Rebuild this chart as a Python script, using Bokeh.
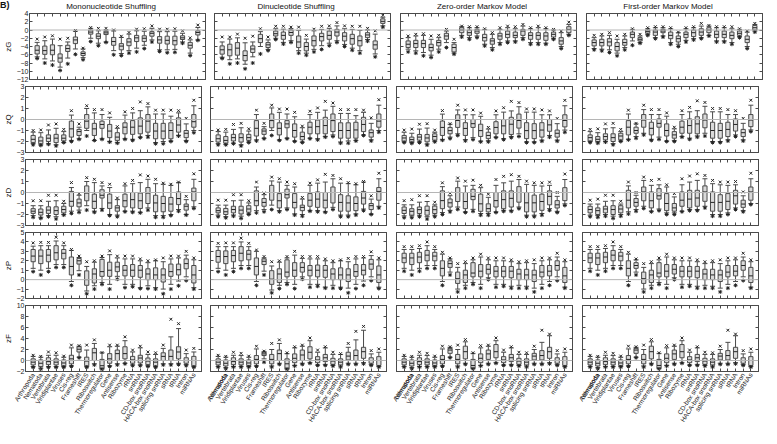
from bokeh.plotting import figure
from bokeh.layouts import column, row
from bokeh.models import (Range1d, FixedTicker, LinearAxis, Span, Div,
                          CustomJSTickFormatter, ColumnDataSource)
from bokeh.embed import file_html
from bokeh.resources import INLINE

FONT = "Liberation Sans"

CATEGORIES = ["Arthropoda", "Nematoda", "Vertebrata", "Viridiplantae", "Viruses",
              "Cis-reg", "Frameshift", "IRES", "Riboswitch", "Thermoregulator",
              "Gene", "Antisense", "Ribozyme", "rRNA", "snRNA", "CD-box snoRNA",
              "HACA-box snoRNA", "splicing snRNA", "sRNA", "tRNA", "Intron", "miRNAs"]
METHODS = ["Mononucleotide Shuffling", "Dinucleotide Shuffling",
           "Zero-order Markov Model", "First-order Markov Model"]
METRICS = ["zG", "zQ", "zD", "zP", "zF"]
Y_LIMITS = [(-12, 4), (-3, 3), (-3, 3), (-2, 5), (-2, 10)]
Y_TICKS = [[-12, -10, -8, -6, -4, -2, 0, 2, 4],
           [-3, -2, -1, 0, 1, 2, 3],
           [-3, -2, -1, 0, 1, 2, 3],
           [-2, -1, 0, 1, 2, 3, 4, 5],
           [-2, 0, 2, 4, 6, 8, 10]]

# ---------------- zG ----------------
ZG_MONO = dict(
    q1=[-5.8, -5.9, -6.0, -7.8, -5.2, -3.3, -6.2, -1.0, -2.1, -1.1, -3.7, -4.8, -3.8, -2.8, -2.8, -1.5, -3.2, -3.4, -3.6, -2.3, -4.4, -1.2],
    med=[-4.9, -5.0, -4.9, -6.8, -4.5, -2.4, -5.7, -0.5, -1.5, -0.7, -2.8, -3.9, -2.9, -1.9, -2.0, -0.8, -2.4, -2.5, -2.6, -1.9, -3.7, -0.6],
    q3=[-3.8, -3.9, -3.6, -5.8, -3.7, -1.7, -5.3, 0.0, -0.9, -0.3, -1.8, -3.3, -2.1, -1.3, -1.4, -0.4, -1.6, -1.5, -1.5, -1.4, -3.0, -0.2],
    wlo=[-6.5, -7.0, -7.5, -9.0, -6.8, -4.6, -6.7, -2.0, -3.2, -2.9, -5.0, -5.7, -5.0, -4.4, -3.7, -2.4, -4.8, -4.8, -4.7, -2.9, -5.6, -2.4],
    whi=[-3.0, -2.6, -2.2, -3.8, -2.9, -0.3, -4.6, 0.4, -0.2, 0.0, -0.2, -1.8, -1.0, -0.2, -0.3, 0.4, -0.4, -0.4, -0.3, -0.8, -2.4, 0.6],
    xlo=[-6.9, -8.0, -8.5, -9.8, -8.2, -5.9, -7.2, -2.8, -3.8, -3.0, -6.0, -6.2, -5.6, -5.3, -4.5, -2.9, -5.2, -5.5, -5.4, -3.2, -6.2, -2.5],
    xhi=[-2.2, -1.7, -1.4, -2.2, -2.0, -0.1, -4.4, 0.6, 0.4, 0.4, 0.0, -1.5, -0.6, 0.2, 0.3, 1.0, 0.2, 0.2, 0.3, -0.2, -1.9, 1.2])
ZG_DI = dict(
    q1=[-5.85, -6.25, -6.1, -7.45, -5.45, -3.05, -4.25, -1.45, -2.25, -1.3, -4.25, -5.05, -3.85, -2.65, -2.25, -1.45, -2.65, -3.45, -3.85, -1.85, -4.65, 1.6],
    med=[-4.8, -4.8, -4.4, -6.2, -4.6, -2.1, -3.6, -0.9, -1.3, -0.6, -2.9, -4.0, -2.6, -1.6, -1.3, -0.5, -1.5, -2.1, -2.6, -1.2, -3.6, 2.1],
    q3=[-3.85, -3.45, -3.05, -5.05, -3.85, -1.05, -3.05, -0.25, -0.5, 0.0, -1.45, -3.05, -1.45, -0.8, -0.25, 0.15, -0.65, -1.05, -1.45, -0.65, -2.65, 2.7],
    wlo=[-6.6, -7.2, -7.0, -8.3, -6.5, -4.0, -4.7, -2.0, -3.0, -2.6, -5.0, -5.6, -4.7, -3.8, -3.2, -2.6, -3.5, -4.4, -5.0, -2.3, -5.8, 1.0],
    whi=[-2.9, -2.2, -1.9, -3.1, -2.9, -0.4, -2.4, 0.3, 0.2, 0.3, -0.1, -2.2, -0.2, 0.15, 0.4, 1.0, 0.3, 0.15, -0.1, 0.0, -1.0, 3.1],
    xlo=[-6.9, -8.2, -8.0, -9.4, -8.0, -5.8, -5.0, -2.3, -3.4, -3.0, -5.6, -6.1, -5.3, -4.7, -3.8, -3.0, -4.0, -4.9, -5.6, -2.7, -6.5, 0.7],
    xhi=[-1.7, -1.7, -1.0, -2.0, -1.5, 0.3, -1.7, 0.9, 0.9, 0.7, 0.7, -1.3, 0.2, 0.9, 1.0, 1.8, 1.0, 0.9, 0.9, 0.4, -0.2, 3.6])
ZG_ZERO = dict(
    q1=[-4.25, -4.25, -4.25, -5.05, -3.85, -2.25, -5.3, -0.65, -1.3, -0.8, -2.65, -3.45, -2.25, -1.85, -1.85, -1.3, -2.25, -2.25, -2.5, -1.7, -3.45, -0.65],
    med=[-3.45, -3.3, -3.3, -4.25, -3.05, -1.45, -4.25, 0.0, -0.65, -0.25, -1.85, -2.65, -1.45, -1.05, -1.3, -0.25, -1.3, -1.3, -1.45, -1.05, -2.65, 0.15],
    q3=[-2.65, -2.5, -2.5, -3.45, -2.5, -0.8, -3.45, 0.55, 0.0, 0.15, -1.05, -2.1, -0.8, -0.25, -0.5, 0.15, -0.65, -0.65, -0.65, -0.5, -1.85, 0.8],
    wlo=[-4.65, -5.05, -5.45, -6.1, -4.65, -3.05, -5.6, -1.3, -1.85, -1.45, -3.45, -4.25, -3.05, -2.65, -2.65, -1.85, -3.05, -3.05, -3.2, -2.1, -4.0, -1.05],
    whi=[-1.85, -1.45, -1.3, -2.25, -1.85, -0.25, -3.05, 0.8, 0.55, 0.55, 0.15, -1.05, 0.15, 0.55, 0.3, 0.95, 0.3, 0.55, 0.3, 0.0, -0.65, 1.35],
    xlo=[-5.3, -5.6, -6.25, -6.65, -5.3, -4.25, -5.85, -1.7, -2.25, -1.85, -3.85, -4.8, -3.45, -3.05, -2.9, -2.25, -3.45, -3.45, -3.45, -2.25, -4.5, -1.3],
    xhi=[-1.45, -1.05, -0.9, -1.45, -1.3, 0.15, -2.25, 0.95, 0.8, 0.8, 0.3, -0.65, 0.55, 0.95, 0.8, 1.35, 0.55, 0.95, 0.55, 0.15, -0.25, 1.9])
ZG_FIRST = dict(
    q1=[-3.85, -3.85, -3.85, -5.05, -3.7, -1.85, -2.65, -0.8, -1.3, -0.65, -2.1, -2.9, -1.85, -1.6, -1.3, -0.65, -1.85, -1.85, -2.1, -1.3, -3.05, 0.0],
    med=[-3.05, -3.05, -2.9, -4.0, -3.05, -1.05, -2.25, -0.4, -0.5, -0.25, -1.3, -2.1, -1.05, -0.65, -0.5, 0.0, -1.05, -1.05, -1.3, -0.8, -2.25, 0.55],
    q3=[-2.4, -2.25, -2.1, -3.05, -2.25, -0.5, -1.85, 0.0, 0.0, 0.15, -0.5, -1.45, -0.5, 0.0, 0.3, 0.55, -0.25, -0.25, -0.5, -0.25, -1.45, 1.1],
    wlo=[-4.5, -4.65, -4.8, -5.6, -4.25, -2.65, -3.05, -1.05, -1.85, -1.45, -3.05, -3.45, -2.5, -2.1, -1.85, -1.3, -2.65, -2.65, -3.05, -1.6, -4.0, -0.25],
    whi=[-1.85, -1.45, -1.3, -2.25, -1.45, 0.15, -1.45, 0.3, 0.55, 0.55, 0.3, -0.65, 0.3, 0.55, 0.95, 0.95, 0.55, 0.55, 0.3, 0.15, -0.5, 1.35],
    xlo=[-4.8, -5.05, -5.45, -6.25, -4.8, -3.7, -3.2, -1.3, -2.1, -1.7, -3.45, -4.0, -2.9, -2.4, -2.1, -1.45, -2.9, -2.9, -3.45, -1.85, -4.5, -0.5],
    xhi=[-1.3, -1.05, -0.65, -1.45, -1.05, 0.3, -1.05, 0.55, 0.8, 0.8, 0.55, -0.5, 0.55, 0.8, 1.6, 1.1, 0.8, 0.8, 0.8, 0.3, -0.25, 1.6])

# ---------------- zQ ----------------
ZQ_MONO = dict(
    q1=[-2.1, -2.2, -2.0, -2.1, -1.95, -1.6, -1.45, -0.8, -1.45, -0.8, -1.65, -1.9, -1.3, -1.35, -1.3, -1.15, -1.75, -1.75, -1.75, -1.15, -1.65, -0.7],
    med=[-1.8, -1.95, -1.7, -1.7, -1.7, -0.85, -1.1, -0.15, -0.85, -0.45, -1.05, -1.6, -0.7, -0.7, -0.6, -0.15, -1.05, -1.05, -1.0, -0.5, -1.25, -0.2],
    q3=[-1.45, -1.6, -1.4, -1.35, -1.4, -0.15, -0.9, 0.45, -0.35, -0.15, -0.45, -1.2, -0.3, -0.1, 0.15, 0.45, -0.35, -0.35, -0.3, 0.15, -1.0, 0.45],
    wlo=[-2.2, -2.3, -2.2, -2.3, -2.1, -1.9, -1.75, -1.0, -1.9, -1.75, -2.0, -2.1, -1.75, -1.8, -1.6, -1.45, -2.1, -2.0, -1.95, -1.45, -1.9, -1.0],
    whi=[-1.15, -1.2, -0.95, -0.8, -1.1, 0.4, -0.7, 1.0, 0.6, 0.45, 0.2, -0.8, 0.4, 0.6, 0.8, 1.15, 0.5, 0.5, 0.3, 0.6, -0.4, 1.25],
    xlo=[-2.3, -2.35, -2.25, -2.4, -2.1, -2.0, -1.8, -1.5, -1.9, -1.8, -2.05, -2.15, -1.8, -1.9, -1.65, -1.6, -2.2, -2.2, -2.0, -1.5, -2.0, -1.2],
    xhi=[-1.0, -0.95, -0.5, -0.4, -0.9, 0.8, -0.4, 1.25, 0.9, 0.9, 0.6, -0.65, 0.7, 1.0, 1.6, 1.45, 0.85, 0.85, 0.85, 0.8, 0.1, 1.75])
ZQ_DI = dict(
    q1=[-2.05, -2.15, -1.95, -2.05, -1.9, -1.5, -1.35, -0.75, -1.4, -0.75, -1.6, -1.85, -1.3, -1.3, -1.3, -1.1, -1.7, -1.7, -1.7, -1.1, -1.6, -0.7],
    med=[-1.75, -1.9, -1.65, -1.65, -1.65, -0.8, -1.05, -0.1, -0.8, -0.4, -1.0, -1.55, -0.7, -0.65, -0.55, -0.1, -1.0, -1.0, -0.95, -0.45, -1.2, -0.15],
    q3=[-1.4, -1.55, -1.35, -1.3, -1.35, -0.1, -0.85, 0.5, -0.3, -0.1, -0.4, -1.15, -0.25, -0.05, 0.2, 0.5, -0.3, -0.3, -0.25, 0.2, -0.95, 0.5],
    wlo=[-2.2, -2.25, -2.15, -2.3, -2.05, -1.85, -1.7, -1.0, -1.85, -1.7, -1.95, -2.05, -1.7, -1.75, -1.55, -1.4, -2.05, -1.95, -1.9, -1.4, -1.85, -1.0],
    whi=[-1.1, -1.15, -0.9, -0.75, -1.05, 0.45, -0.65, 1.05, 0.65, 0.5, 0.25, -0.75, 0.45, 0.65, 0.85, 1.2, 0.55, 0.55, 0.35, 0.65, -0.35, 1.3],
    xlo=[-2.3, -2.3, -2.2, -2.4, -2.1, -1.95, -1.75, -1.45, -1.9, -1.75, -2.0, -2.1, -1.75, -1.85, -1.6, -1.55, -2.15, -2.15, -1.95, -1.45, -1.95, -1.15],
    xhi=[-0.95, -0.9, -0.45, -0.35, -0.85, 0.85, -0.35, 1.3, 0.95, 0.95, 0.65, -0.6, 0.75, 1.05, 1.65, 1.5, 0.9, 0.9, 0.9, 0.85, 0.15, 1.8])
ZQ_ZERO = dict(
    q1=[-1.97, -2.03, -1.88, -2.03, -1.88, -1.45, -1.3, -0.72, -1.45, -0.72, -1.54, -1.74, -1.3, -1.3, -1.36, -0.78, -1.74, -1.74, -1.6, -1.07, -1.6, -0.67],
    med=[-1.68, -1.83, -1.6, -1.68, -1.54, -0.72, -1.01, -0.09, -0.81, -0.38, -1.01, -1.45, -0.72, -0.58, -0.43, -0.09, -1.01, -1.01, -0.96, -0.49, -1.25, -0.09],
    q3=[-1.45, -1.6, -1.36, -1.36, -1.3, -0.14, -0.72, 0.43, -0.29, 0.0, -0.43, -1.16, -0.2, 0.0, 0.2, 0.49, -0.29, -0.38, -0.29, 0.0, -0.96, 0.43],
    wlo=[-2.03, -2.09, -2.03, -2.23, -1.97, -1.83, -1.6, -1.3, -1.83, -1.65, -1.97, -1.94, -1.6, -1.74, -1.54, -1.3, -2.03, -2.03, -1.88, -1.45, -1.88, -0.96],
    whi=[-1.16, -1.25, -0.87, -0.78, -1.16, 0.49, -0.43, 0.87, 0.43, 0.43, 0.29, -0.87, 0.43, 0.67, 0.78, 1.16, 0.67, 0.67, 0.43, 0.43, -0.38, 1.25],
    xlo=[-2.1, -2.17, -2.1, -2.32, -2.03, -1.88, -1.74, -1.45, -1.94, -1.83, -2.03, -2.03, -1.65, -1.83, -1.65, -1.54, -2.1, -2.1, -1.97, -1.6, -1.97, -1.16],
    xhi=[-0.96, -0.87, -0.43, -0.38, -0.96, 0.81, -0.38, 1.3, 0.87, 0.87, 0.58, -0.72, 0.78, 1.07, 1.65, 1.54, 0.96, 0.96, 0.87, 0.78, 0.09, 1.74])
ZQ_FIRST = dict(
    q1=[-1.95, -2.0, -1.85, -2.0, -1.85, -1.4, -1.25, -0.7, -1.4, -0.7, -1.5, -1.7, -1.25, -1.25, -1.3, -0.75, -1.7, -1.7, -1.55, -1.05, -1.55, -0.65],
    med=[-1.65, -1.8, -1.55, -1.65, -1.5, -0.7, -1.0, -0.05, -0.8, -0.35, -1.0, -1.4, -0.7, -0.55, -0.4, -0.05, -1.0, -1.0, -0.9, -0.45, -1.2, -0.05],
    q3=[-1.4, -1.55, -1.3, -1.3, -1.25, -0.1, -0.7, 0.45, -0.25, 0.05, -0.4, -1.1, -0.15, 0.05, 0.25, 0.5, -0.25, -0.35, -0.25, 0.05, -0.9, 0.45],
    wlo=[-2.0, -2.05, -2.0, -2.2, -1.95, -1.8, -1.55, -1.25, -1.8, -1.6, -1.95, -1.9, -1.55, -1.7, -1.5, -1.25, -2.0, -2.0, -1.85, -1.4, -1.85, -0.95],
    whi=[-1.1, -1.2, -0.85, -0.75, -1.1, 0.5, -0.4, 0.9, 0.45, 0.45, 0.3, -0.85, 0.45, 0.7, 0.8, 1.2, 0.7, 0.7, 0.45, 0.45, -0.35, 1.3],
    xlo=[-2.1, -2.15, -2.05, -2.3, -2.0, -1.85, -1.7, -1.4, -1.9, -1.8, -2.0, -2.0, -1.6, -1.8, -1.6, -1.5, -2.1, -2.1, -1.95, -1.55, -1.95, -1.1],
    xhi=[-0.9, -0.85, -0.4, -0.35, -0.9, 0.85, -0.35, 1.3, 0.9, 0.9, 0.6, -0.7, 0.8, 1.1, 1.7, 1.55, 1.0, 1.0, 0.9, 0.8, 0.1, 1.75])

# ---------------- zD ----------------
ZD_MONO = dict(
    q1=[-1.9, -2.05, -1.9, -2.0, -1.85, -1.25, -1.3, -0.75, -1.45, -0.5, -1.45, -1.7, -1.3, -1.4, -1.45, -1.0, -1.75, -1.75, -1.7, -1.1, -1.6, -0.75],
    med=[-1.7, -1.8, -1.6, -1.65, -1.55, -0.8, -0.95, -0.05, -0.8, -0.25, -0.95, -1.4, -0.75, -0.65, -0.75, -0.05, -0.95, -1.0, -1.05, -0.55, -1.25, 0.05],
    q3=[-1.47, -1.5, -1.3, -1.3, -1.25, 0.1, -0.6, 0.6, -0.15, 0.25, -0.15, -1.2, -0.15, 0.0, -0.05, 0.45, -0.25, -0.35, -0.45, 0.05, -1.05, 0.4],
    wlo=[-2.1, -2.25, -2.1, -2.2, -2.0, -1.7, -1.6, -1.2, -1.7, -1.45, -2.0, -2.05, -1.7, -1.7, -1.8, -1.4, -2.1, -2.1, -2.0, -1.55, -2.0, -1.3],
    whi=[-1.2, -1.2, -0.8, -0.75, -1.0, 0.45, -0.25, 1.0, 0.9, 0.6, 0.45, -0.65, 0.6, 0.8, 0.9, 1.2, 0.8, 0.75, 0.65, 0.9, -0.65, 1.2],
    xlo=[-2.25, -2.35, -2.2, -2.4, -2.05, -1.9, -1.8, -1.6, -1.8, -1.6, -2.1, -2.2, -1.75, -1.8, -1.85, -1.6, -2.25, -2.25, -2.1, -1.7, -2.05, -1.45],
    xhi=[-0.75, -0.75, -0.25, -0.25, -0.8, 0.9, -0.1, 1.35, 1.2, 0.9, 0.75, -0.5, 0.8, 1.1, 1.6, 1.5, 1.2, 0.85, 0.75, 0.95, -0.35, 1.7])
ZD_DI = dict(
    q1=[-1.85, -2.0, -1.85, -1.95, -1.8, -1.2, -1.25, -0.7, -1.4, -0.5, -1.4, -1.65, -1.25, -1.35, -1.4, -0.95, -1.7, -1.7, -1.65, -1.05, -1.55, -0.7],
    med=[-1.65, -1.75, -1.55, -1.6, -1.5, -0.75, -0.9, 0.0, -0.75, -0.2, -0.9, -1.35, -0.7, -0.6, -0.7, 0.0, -0.9, -0.95, -1.0, -0.5, -1.2, 0.1],
    q3=[-1.4, -1.45, -1.25, -1.25, -1.2, 0.15, -0.55, 0.65, -0.1, 0.3, -0.1, -1.15, -0.1, 0.05, 0.0, 0.5, -0.2, -0.3, -0.4, 0.1, -1.0, 0.45],
    wlo=[-2.05, -2.2, -2.05, -2.15, -1.95, -1.65, -1.55, -1.15, -1.65, -1.4, -1.95, -2.0, -1.65, -1.65, -1.75, -1.35, -2.05, -2.05, -1.95, -1.5, -1.95, -1.25],
    whi=[-1.15, -1.15, -0.75, -0.7, -0.95, 0.5, -0.2, 1.05, 0.95, 0.65, 0.5, -0.6, 0.65, 0.85, 0.95, 1.25, 0.85, 0.8, 0.7, 0.95, -0.6, 1.25],
    xlo=[-2.2, -2.3, -2.15, -2.35, -2.0, -1.85, -1.75, -1.55, -1.75, -1.55, -2.05, -2.15, -1.7, -1.75, -1.8, -1.55, -2.2, -2.2, -2.05, -1.65, -2.0, -1.4],
    xhi=[-0.7, -0.7, -0.2, -0.2, -0.75, 0.95, -0.05, 1.4, 1.25, 0.95, 0.8, -0.45, 0.85, 1.15, 1.65, 1.55, 1.25, 0.9, 0.8, 1.0, -0.3, 1.75])
ZD_ZERO = dict(
    q1=[-1.91, -2.06, -1.91, -2.06, -1.91, -1.47, -1.32, -0.82, -1.47, -0.65, -1.71, -1.76, -1.32, -1.47, -1.32, -0.88, -1.76, -1.76, -1.62, -1.12, -1.41, -0.74],
    med=[-1.62, -1.71, -1.56, -1.62, -1.56, -0.74, -0.94, 0.0, -0.82, -0.35, -1.03, -1.47, -0.74, -0.65, -0.53, 0.0, -0.94, -0.94, -0.82, -0.35, -1.12, 0.0],
    q3=[-1.32, -1.47, -1.32, -1.24, -1.24, 0.15, -0.59, 0.44, 0.0, 0.29, -0.15, -1.03, 0.0, 0.15, 0.15, 0.53, 0.0, -0.24, -0.15, 0.15, -0.74, 0.44],
    wlo=[-2.12, -2.12, -2.06, -2.2, -2.06, -1.82, -1.62, -1.32, -1.76, -1.53, -1.91, -1.91, -1.76, -1.62, -1.62, -1.32, -2.06, -2.06, -1.91, -1.47, -1.71, -1.03],
    whi=[-1.12, -1.12, -0.88, -0.82, -1.12, 0.53, -0.29, 1.03, 0.59, 0.65, 0.44, -0.44, 0.65, 0.88, 1.03, 1.18, 0.74, 0.65, 0.59, 0.65, -0.35, 1.18],
    xlo=[-2.29, -2.29, -2.2, -2.41, -2.2, -2.0, -1.76, -1.53, -1.82, -1.71, -2.06, -2.06, -1.82, -1.71, -1.71, -1.47, -2.2, -2.2, -2.06, -1.62, -1.82, -1.18],
    xhi=[-0.74, -0.65, -0.29, -0.29, -0.88, 0.88, -0.06, 1.32, 1.03, 1.12, 0.65, -0.15, 1.18, 1.47, 1.62, 1.47, 1.03, 0.88, 0.88, 0.94, 0.0, 1.68])
ZD_FIRST = dict(
    q1=[-1.85, -2.0, -1.85, -2.0, -1.85, -1.4, -1.25, -0.75, -1.4, -0.6, -1.65, -1.7, -1.25, -1.4, -1.25, -0.8, -1.7, -1.7, -1.55, -1.05, -1.35, -0.7],
    med=[-1.55, -1.65, -1.5, -1.55, -1.5, -0.7, -0.9, 0.05, -0.75, -0.3, -1.0, -1.4, -0.7, -0.6, -0.5, 0.05, -0.9, -0.9, -0.8, -0.3, -1.05, 0.05],
    q3=[-1.25, -1.4, -1.25, -1.2, -1.2, 0.2, -0.55, 0.5, 0.05, 0.35, -0.1, -1.0, 0.05, 0.2, 0.2, 0.6, 0.05, -0.2, -0.1, 0.2, -0.7, 0.5],
    wlo=[-2.05, -2.1, -2.0, -2.15, -2.0, -1.75, -1.55, -1.25, -1.7, -1.5, -1.85, -1.85, -1.7, -1.55, -1.55, -1.25, -2.0, -2.0, -1.85, -1.4, -1.65, -1.0],
    whi=[-1.05, -1.05, -0.8, -0.75, -1.05, 0.6, -0.25, 1.1, 0.65, 0.7, 0.5, -0.4, 0.7, 0.95, 1.1, 1.25, 0.8, 0.7, 0.65, 0.7, -0.3, 1.25],
    xlo=[-2.2, -2.25, -2.15, -2.35, -2.15, -1.95, -1.7, -1.45, -1.75, -1.65, -2.0, -2.0, -1.75, -1.65, -1.65, -1.4, -2.15, -2.15, -2.0, -1.55, -1.75, -1.1],
    xhi=[-0.7, -0.6, -0.25, -0.25, -0.8, 0.95, 0.0, 1.4, 1.1, 1.2, 0.7, -0.1, 1.25, 1.5, 1.7, 1.55, 1.1, 0.95, 0.95, 1.0, 0.05, 1.75])

# ---------------- zP ----------------
ZP_MONO = dict(
    q1=[1.9, 1.7, 1.9, 2.1, 2.2, 0.5, 1.65, -0.6, -0.35, 0.35, 0.35, 0.85, 0.4, 0.35, 0.25, 0.0, 0.0, -0.25, 0.35, 0.5, 1.15, -0.35],
    med=[2.5, 2.5, 2.6, 2.85, 2.8, 1.4, 2.0, 0.0, 0.6, 0.85, 1.0, 1.35, 1.0, 1.0, 1.0, 0.6, 0.5, 0.5, 0.85, 1.05, 1.7, 0.5],
    q3=[3.2, 3.15, 3.2, 3.6, 3.2, 2.4, 2.25, 0.93, 1.15, 2.15, 1.85, 1.85, 1.5, 1.6, 1.5, 1.15, 1.25, 1.15, 1.65, 1.65, 2.2, 1.5],
    wlo=[1.2, 1.0, 1.2, 1.6, 1.6, -0.2, 0.95, -1.2, -0.65, -0.3, -0.5, 0.35, -0.5, -0.5, -0.85, -0.65, -0.85, -1.0, -0.5, -0.15, 0.3, -0.85],
    whi=[3.55, 3.6, 3.6, 4.1, 3.6, 3.1, 2.35, 1.4, 1.85, 2.35, 2.65, 2.3, 2.2, 2.2, 2.0, 1.8, 2.0, 1.9, 2.2, 2.3, 2.6, 2.1],
    xlo=[0.85, 0.5, 0.85, 1.3, 1.3, -0.6, 0.5, -1.5, -1.0, -0.5, -1.0, 0.05, -0.85, -0.75, -0.95, -0.95, -1.0, -1.5, -1.0, -0.65, -0.1, -1.0],
    xhi=[3.9, 3.95, 3.95, 4.5, 3.9, 3.2, 2.5, 1.9, 2.0, 2.5, 3.05, 2.5, 2.5, 2.5, 2.2, 2.0, 2.1, 2.3, 2.5, 2.5, 3.0, 2.3])
ZP_DI = dict(
    q1=[1.85, 1.7, 1.9, 2.0, 2.1, 0.5, 1.6, -0.5, -0.3, 0.3, 0.35, 0.8, 0.4, 0.3, 0.25, 0.0, 0.0, -0.2, 0.35, 0.5, 1.1, -0.3],
    med=[2.45, 2.45, 2.55, 2.8, 2.7, 1.4, 1.95, 0.05, 0.6, 0.8, 1.0, 1.3, 1.0, 1.0, 1.0, 0.6, 0.5, 0.5, 0.85, 1.0, 1.65, 0.5],
    q3=[3.1, 3.05, 3.1, 3.5, 3.1, 2.3, 2.2, 0.95, 1.15, 2.1, 1.8, 1.8, 1.5, 1.55, 1.5, 1.15, 1.25, 1.15, 1.6, 1.6, 2.15, 1.45],
    wlo=[1.2, 1.0, 1.2, 1.5, 1.5, -0.2, 0.9, -1.1, -0.6, -0.3, -0.5, 0.3, -0.5, -0.5, -0.8, -0.6, -0.8, -0.9, -0.5, -0.15, 0.3, -0.8],
    whi=[3.5, 3.5, 3.5, 4.0, 3.5, 3.0, 2.3, 1.45, 1.85, 2.3, 2.6, 2.25, 2.2, 2.2, 2.0, 1.8, 2.0, 1.9, 2.2, 2.3, 2.55, 2.1],
    xlo=[0.85, 0.5, 0.85, 1.2, 1.2, -0.6, 0.5, -1.4, -0.95, -0.5, -0.95, 0.05, -0.8, -0.7, -0.9, -0.9, -0.95, -1.4, -0.95, -0.6, -0.1, -0.95],
    xhi=[3.85, 3.9, 3.9, 4.4, 3.85, 3.15, 2.45, 1.9, 2.0, 2.45, 3.0, 2.45, 2.45, 2.45, 2.2, 2.0, 2.1, 2.25, 2.45, 2.45, 2.95, 2.3])
ZP_ZERO = dict(
    q1=[1.8, 1.6, 1.8, 2.0, 2.0, 0.4, 1.3, -0.4, -0.3, 0.3, 0.3, 0.6, 0.3, 0.3, 0.2, 0.0, 0.0, -0.2, 0.3, 0.4, 1.0, -0.3],
    med=[2.3, 2.3, 2.4, 2.6, 2.5, 1.2, 1.7, 0.1, 0.5, 0.7, 0.9, 1.1, 0.9, 0.9, 0.9, 0.6, 0.5, 0.5, 0.8, 0.9, 1.5, 0.4],
    q3=[2.8, 2.8, 2.9, 3.1, 2.9, 2.0, 2.0, 0.8, 1.0, 1.8, 1.6, 1.6, 1.4, 1.4, 1.4, 1.1, 1.1, 1.0, 1.5, 1.5, 2.0, 1.3],
    wlo=[1.2, 1.0, 1.2, 1.5, 1.5, -0.2, 0.8, -1.0, -0.6, -0.3, -0.5, 0.2, -0.5, -0.5, -0.7, -0.6, -0.7, -0.9, -0.5, -0.2, 0.3, -0.8],
    whi=[3.2, 3.2, 3.3, 3.6, 3.2, 2.7, 2.2, 1.3, 1.7, 2.1, 2.4, 2.1, 2.0, 2.0, 1.9, 1.7, 1.8, 1.7, 2.0, 2.1, 2.4, 1.9],
    xlo=[0.9, 0.5, 0.9, 1.2, 1.2, -0.6, 0.5, -1.3, -0.9, -0.5, -0.9, 0.0, -0.8, -0.7, -0.9, -0.9, -0.9, -1.3, -0.9, -0.6, -0.1, -0.9],
    xhi=[3.5, 3.5, 3.6, 4.0, 3.5, 2.9, 2.3, 1.7, 1.9, 2.3, 2.7, 2.3, 2.3, 2.3, 2.1, 1.9, 2.0, 2.1, 2.3, 2.3, 2.8, 2.1])
ZP_FIRST = dict(
    q1=[1.8, 1.6, 1.8, 2.0, 2.0, 0.4, 1.2, -0.4, -0.3, 0.3, 0.3, 0.6, 0.3, 0.3, 0.2, 0.0, 0.0, -0.2, 0.3, 0.4, 1.0, -0.3],
    med=[2.3, 2.3, 2.4, 2.6, 2.5, 1.2, 1.5, 0.1, 0.5, 0.7, 0.9, 1.1, 0.9, 0.9, 0.9, 0.6, 0.5, 0.5, 0.8, 0.9, 1.5, 0.4],
    q3=[2.8, 2.8, 2.9, 3.1, 2.9, 2.0, 1.8, 0.8, 1.0, 1.8, 1.6, 1.6, 1.4, 1.4, 1.4, 1.1, 1.1, 1.0, 1.5, 1.5, 2.0, 1.3],
    wlo=[1.2, 1.0, 1.2, 1.5, 1.5, -0.2, 0.8, -1.0, -0.6, -0.3, -0.5, 0.2, -0.5, -0.5, -0.7, -0.6, -0.7, -0.9, -0.5, -0.2, 0.3, -0.8],
    whi=[3.2, 3.2, 3.3, 3.6, 3.2, 2.7, 2.1, 1.3, 1.7, 2.1, 2.4, 2.1, 2.0, 2.0, 1.9, 1.7, 1.8, 1.7, 2.0, 2.1, 2.4, 1.9],
    xlo=[0.9, 0.5, 0.9, 1.2, 1.2, -0.6, 0.5, -1.3, -0.9, -0.5, -0.9, 0.0, -0.8, -0.7, -0.9, -0.9, -0.9, -1.3, -0.9, -0.6, -0.1, -0.9],
    xhi=[3.5, 3.5, 3.6, 4.0, 3.5, 2.9, 2.2, 1.7, 1.9, 2.3, 2.7, 2.3, 2.3, 2.3, 2.1, 1.9, 2.0, 2.1, 2.3, 2.3, 2.8, 2.1])

# ---------------- zF ----------------
ZF_MONO = dict(
    q1=[-0.8, -1.1, -0.75, -0.8, -0.95, -0.6, 1.55, -0.95, 0.0, -1.45, -0.5, 0.0, 0.3, -0.5, -0.45, -0.75, -0.95, 0.0, 0.0, 0.3, -0.5, -0.95],
    med=[-0.3, -0.5, -0.2, -0.3, -0.45, 0.3, 2.05, -0.1, 1.4, -0.95, 0.3, 1.25, 1.25, 0.1, 0.45, -0.1, -0.3, 0.75, 0.75, 1.55, 0.0, 0.0],
    q3=[0.3, 0.1, 0.5, 0.3, 0.1, 0.95, 2.5, 0.6, 2.2, 0.2, 1.25, 1.9, 2.5, 0.75, 0.95, 0.45, 0.3, 1.4, 1.9, 2.5, 0.5, 0.75],
    wlo=[-1.1, -1.4, -1.1, -1.1, -1.1, -0.95, 0.6, -1.1, -0.6, -1.55, -0.95, -0.6, -0.5, -0.8, -0.8, -0.95, -1.1, -0.6, -0.6, -0.5, -0.75, -1.1],
    whi=[0.75, 0.6, 0.95, 0.95, 0.6, 2.3, 2.6, 1.9, 3.1, 1.4, 2.5, 2.6, 3.6, 1.55, 2.3, 1.1, 1.1, 2.2, 4.3, 5.8, 1.25, 1.55],
    xlo=[-1.25, -1.55, -1.25, -1.25, -1.25, -1.1, 0.5, -1.25, -0.8, -1.55, -1.1, -0.8, -0.6, -0.95, -0.95, -1.1, -1.25, -0.8, -0.8, -0.75, -0.95, -1.25],
    xhi=[0.95, 0.75, 1.55, 1.4, 0.8, 2.8, 2.7, 2.8, 3.75, 1.45, 2.8, 2.8, 4.3, 1.9, 2.6, 1.55, 1.4, 2.8, 7.5, 6.7, 1.9, 2.2])
ZF_DI = dict(
    q1=[-0.8, -1.0, -0.75, -0.8, -0.9, -0.6, 0.9, -0.6, 0.0, -1.5, -0.4, 0.0, 0.3, -0.4, -0.2, -0.7, -0.8, 0.1, 0.0, 0.4, -0.5, -0.9],
    med=[-0.3, -0.5, -0.2, -0.3, -0.45, 0.2, 1.2, 0.2, 1.25, -0.6, 0.4, 1.0, 1.5, 0.1, 0.5, -0.1, -0.3, 0.8, 0.9, 1.6, 0.0, 0.0],
    q3=[0.3, 0.1, 0.5, 0.3, 0.1, 0.9, 1.5, 1.1, 1.9, 0.3, 1.2, 1.9, 2.5, 0.7, 1.1, 0.4, 0.3, 1.5, 1.9, 2.4, 0.5, 0.7],
    wlo=[-1.1, -1.3, -1.1, -1.1, -1.1, -0.95, 0.3, -1.0, -0.5, -1.55, -0.9, -0.5, -0.4, -0.8, -0.7, -0.9, -1.0, -0.5, -0.5, -0.4, -0.7, -1.1],
    whi=[0.75, 0.6, 0.95, 0.9, 0.6, 2.1, 1.6, 2.0, 3.1, 1.25, 2.3, 2.6, 3.6, 1.5, 2.3, 1.1, 1.1, 2.4, 3.75, 5.5, 1.2, 1.5],
    xlo=[-1.2, -1.5, -1.2, -1.2, -1.2, -1.1, -0.3, -1.2, -0.7, -1.55, -1.0, -0.7, -0.5, -0.9, -0.9, -1.0, -1.2, -0.7, -0.7, -0.6, -0.9, -1.2],
    xhi=[0.95, 0.75, 1.5, 1.3, 0.8, 2.6, 1.7, 3.1, 3.75, 1.4, 2.5, 2.8, 4.1, 1.9, 2.5, 1.5, 1.25, 3.1, 5.3, 6.2, 1.8, 2.1])
ZF_ZERO = dict(
    q1=[-0.8, -1.0, -0.75, -0.8, -0.9, -0.6, 1.3, -0.6, 0.3, -1.4, -0.4, 0.2, 0.5, -0.4, -0.2, -0.7, -0.8, 0.1, 0.1, 0.4, -0.5, -0.9],
    med=[-0.3, -0.5, -0.2, -0.3, -0.45, 0.2, 1.9, 0.2, 1.6, -0.9, 0.4, 1.2, 1.6, 0.1, 0.5, -0.1, -0.3, 0.8, 0.9, 1.6, 0.0, 0.0],
    q3=[0.3, 0.1, 0.5, 0.3, 0.1, 0.9, 2.2, 1.1, 2.6, 0.2, 1.2, 1.9, 2.9, 0.7, 1.1, 0.4, 0.3, 1.3, 1.8, 2.4, 0.5, 0.7],
    wlo=[-1.1, -1.3, -1.1, -1.1, -1.1, -0.95, 0.6, -1.0, -0.5, -1.5, -0.9, -0.5, -0.4, -0.8, -0.7, -0.9, -1.0, -0.5, -0.5, -0.4, -0.7, -1.1],
    whi=[0.75, 0.6, 0.95, 0.9, 0.6, 2.1, 2.4, 2.0, 3.4, 1.3, 2.3, 2.6, 3.6, 1.5, 2.3, 1.1, 1.1, 2.0, 3.3, 4.5, 1.2, 1.5],
    xlo=[-1.2, -1.5, -1.2, -1.2, -1.2, -1.1, 0.5, -1.2, -0.7, -1.5, -1.0, -0.7, -0.5, -0.9, -0.9, -1.0, -1.2, -0.7, -0.7, -0.6, -0.9, -1.2],
    xhi=[0.95, 0.75, 1.5, 1.3, 0.8, 2.6, 2.5, 2.8, 3.8, 1.4, 2.7, 2.8, 4.1, 1.9, 2.5, 1.5, 1.4, 2.6, 5.5, 4.8, 1.8, 2.1])
ZF_FIRST = dict(
    q1=[-0.8, -1.0, -0.75, -0.8, -0.9, -0.6, 1.3, -0.6, 0.3, -1.4, -0.4, 0.2, 0.5, -0.4, -0.2, -0.7, -0.8, 0.1, 0.1, 0.4, -0.5, -0.9],
    med=[-0.3, -0.5, -0.2, -0.3, -0.45, 0.2, 1.9, 0.2, 1.6, -0.9, 0.4, 1.2, 1.6, 0.1, 0.5, -0.1, -0.3, 0.8, 0.9, 1.6, 0.0, 0.0],
    q3=[0.3, 0.1, 0.5, 0.3, 0.1, 0.9, 2.2, 1.1, 2.6, 0.2, 1.2, 1.9, 2.9, 0.7, 1.1, 0.4, 0.3, 1.3, 1.8, 2.4, 0.5, 0.7],
    wlo=[-1.1, -1.3, -1.1, -1.1, -1.1, -0.95, 0.6, -1.0, -0.5, -1.5, -0.9, -0.5, -0.4, -0.8, -0.7, -0.9, -1.0, -0.5, -0.5, -0.4, -0.7, -1.1],
    whi=[0.75, 0.6, 0.95, 0.9, 0.6, 2.1, 2.4, 2.0, 3.4, 1.3, 2.3, 2.6, 3.6, 1.5, 2.3, 1.1, 1.1, 2.0, 3.3, 4.5, 1.2, 1.5],
    xlo=[-1.2, -1.5, -1.2, -1.2, -1.2, -1.1, 0.5, -1.2, -0.7, -1.5, -1.0, -0.7, -0.5, -0.9, -0.9, -1.0, -1.2, -0.7, -0.7, -0.6, -0.9, -1.2],
    xhi=[0.95, 0.75, 1.5, 1.3, 0.8, 2.6, 2.5, 2.8, 3.8, 1.4, 2.7, 2.8, 4.1, 1.9, 2.5, 1.5, 1.4, 2.6, 5.5, 4.8, 1.8, 2.1])

PANELS = [[ZG_MONO, ZG_DI, ZG_ZERO, ZG_FIRST],
          [ZQ_MONO, ZQ_DI, ZQ_ZERO, ZQ_FIRST],
          [ZD_MONO, ZD_DI, ZD_ZERO, ZD_FIRST],
          [ZP_MONO, ZP_DI, ZP_ZERO, ZP_FIRST],
          [ZF_MONO, ZF_DI, ZF_ZERO, ZF_FIRST]]

# ---------------- layout ----------------
FRAME_W, FRAME_H = 176, 66
BORDER_L = [23, 5, 5, 5]
BORDER_R = [4, 5, 5, 2]
BORDER_T = 3
BORDER_B = [4, 4, 4, 4, 48]
HEADER_H = 10
EDGE = "#4a4a4a"
BOX_FILL = "#dadada"


def blank_axis(ax):
    ax.formatter = CustomJSTickFormatter(code="return ''")
    ax.major_label_text_font_size = "1px"
    ax.major_label_standoff = 0


def style_axis(ax, ticks):
    ax.ticker = FixedTicker(ticks=ticks, minor_ticks=[])
    ax.major_tick_in = 3
    ax.major_tick_out = 0
    ax.minor_tick_line_color = None
    ax.axis_line_color = EDGE
    ax.major_tick_line_color = EDGE
    ax.major_label_text_font = FONT
    ax.major_label_text_color = "#222222"


# header with panel label and column titles (centred over each frame)
spans = ['<b style="position:absolute;left:0px;top:-2px;font-size:9px;">B)</b>']
x0 = 0
for ci, method in enumerate(METHODS):
    left = x0 + BORDER_L[ci]
    spans.append('<span style="position:absolute;left:%dpx;width:%dpx;top:0px;'
                 'text-align:center;font-size:8px;white-space:nowrap;">%s</span>'
                 % (left, FRAME_W, method))
    x0 += BORDER_L[ci] + FRAME_W + BORDER_R[ci]
header = Div(text='<div style="position:relative;width:%dpx;height:%dpx;font-family:\'%s\';'
                  'color:#111111;line-height:10px;">%s</div>' % (x0, HEADER_H, FONT, "".join(spans)),
             width=x0, height=HEADER_H, margin=0)

positions = list(range(1, len(CATEGORIES) + 1))
rows = [header]
for ri, metric in enumerate(METRICS):
    figs = []
    for ci, method in enumerate(METHODS):
        stats = PANELS[ri][ci]
        p = figure(frame_width=FRAME_W, frame_height=FRAME_H,
                   x_range=Range1d(0, len(CATEGORIES) + 1),
                   y_range=Range1d(*Y_LIMITS[ri]),
                   output_backend="svg", toolbar_location=None,
                   min_border_left=BORDER_L[ci], min_border_right=BORDER_R[ci],
                   min_border_top=BORDER_T, min_border_bottom=BORDER_B[ri],
                   background_fill_color="white", border_fill_color="white")
        p.outline_line_color = EDGE
        p.grid.visible = False

        xb = p.xaxis[0]
        style_axis(xb, positions)
        if ri == len(METRICS) - 1:
            xb.major_label_overrides = {pos: c for pos, c in zip(positions, CATEGORIES)}
            xb.major_label_orientation = 1.0
            xb.major_label_text_font_size = "6.5px"
            xb.major_label_text_color = "#1a1a1a"
            xb.major_label_standoff = 2
        else:
            blank_axis(xb)
        yl = p.yaxis[0]
        style_axis(yl, Y_TICKS[ri])
        if ci == 0:
            yl.major_label_text_font_size = "7px"
            yl.major_label_standoff = 1
            yl.axis_label = metric
            yl.axis_label_text_font = FONT
            yl.axis_label_text_font_size = "8px"
            yl.axis_label_text_font_style = "normal"
            yl.axis_label_text_color = "#111111"
            yl.axis_label_standoff = 1
        else:
            blank_axis(yl)
        xt = LinearAxis()
        style_axis(xt, positions)
        blank_axis(xt)
        p.add_layout(xt, "above")
        yr = LinearAxis()
        style_axis(yr, Y_TICKS[ri])
        blank_axis(yr)
        p.add_layout(yr, "right")

        p.add_layout(Span(location=0, dimension="width",
                          line_color="#b5b5b5", line_width=1))

        src = ColumnDataSource(dict(x=positions, **stats))
        p.segment(x0="x", y0="q3", x1="x", y1="whi", source=src,
                  line_color=EDGE, line_width=1)
        p.segment(x0="x", y0="q1", x1="x", y1="wlo", source=src,
                  line_color=EDGE, line_width=1)
        p.scatter(x="x", y="whi", source=src, marker="dash", size=5,
                  line_color=EDGE, line_width=1)
        p.scatter(x="x", y="wlo", source=src, marker="dash", size=5,
                  line_color=EDGE, line_width=1)
        p.vbar(x="x", width=0.55, bottom="q1", top="q3", source=src,
               fill_color=BOX_FILL, line_color=EDGE, line_width=1)
        p.scatter(x="x", y="med", source=src, marker="dash", size=4,
                  line_color="#222222", line_width=1)
        p.scatter(x="x", y="xhi", source=src, marker="x", size=4,
                  line_color="#222222", line_width=1)
        p.scatter(x="x", y="xlo", source=src, marker="asterisk", size=4,
                  line_color="#222222", line_width=1)
        figs.append(p)
    rows.append(row(*figs))

layout = column(*rows)
open("out.html", "w").write(file_html(layout, INLINE))
